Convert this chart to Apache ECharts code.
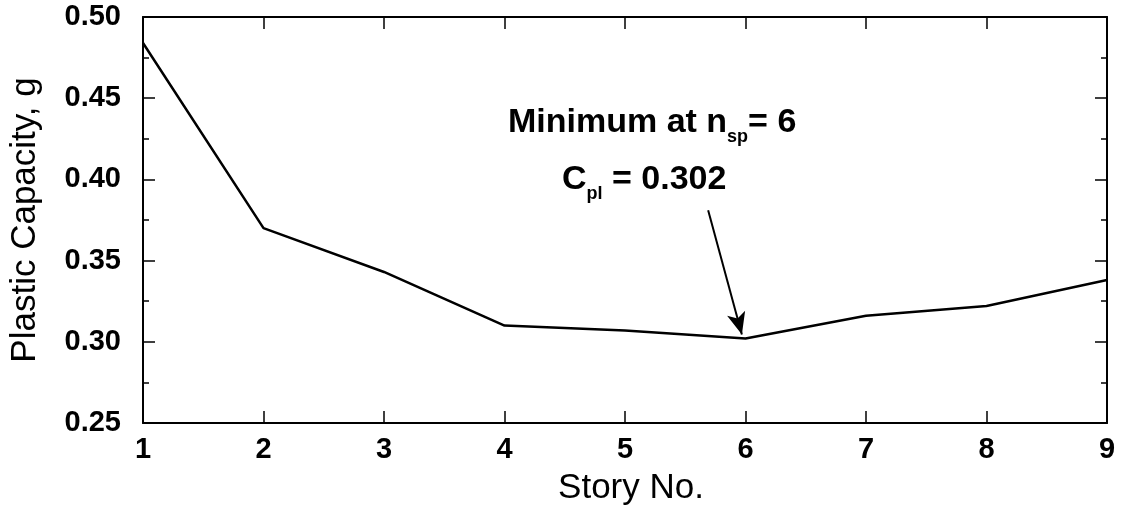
<!DOCTYPE html>
<html>
<head>
<meta charset="utf-8">
<style>
html,body{margin:0;padding:0;background:#fff;}
#chart{width:1123px;height:511px;}
</style>
<script src="https://cdn.jsdelivr.net/npm/echarts@6/dist/echarts.min.js"></script>
</head>
<body>
<div id="chart"></div>
<script>
// Data
const stories = [1, 2, 3, 4, 5, 6, 7, 8, 9];
const plasticCapacity = [0.484, 0.370, 0.343, 0.310, 0.307, 0.302, 0.316, 0.322, 0.338];
const yTicks = [0.25, 0.30, 0.35, 0.40, 0.45, 0.50];
const xTitle = 'Story No.';
const yTitle = 'Plastic Capacity, g';
const arrowFrom = [5.69, 0.381];
const arrowTo = [5.97, 0.3045];

const FONT = '"Liberation Sans", Arial, Helvetica, sans-serif';
const chart = echarts.init(document.getElementById('chart'), null, {renderer: 'canvas'});

const axisLine = {show: true, lineStyle: {color: '#000', width: 2}};
const tickStyle = {color: '#000', width: 1.5};
const subStyle = {fontFamily: FONT, fontSize: 18, fontWeight: 'bold', fill: '#000', verticalAlign: 'bottom', lineHeight: 18};

const option = {
  animation: false,
  backgroundColor: '#fff',
  grid: {left: 142, right: 16, top: 17, bottom: 87},
  xAxis: [{
    type: 'value', min: 1, max: 9, interval: 1, position: 'bottom',
    name: xTitle, nameLocation: 'middle', nameGap: 48,
    nameTextStyle: {fontFamily: FONT, fontSize: 35, color: '#000', padding: [0, 0, 0, 12]},
    axisLine: axisLine,
    axisTick: {show: true, inside: true, length: 12, lineStyle: tickStyle},
    axisLabel: {fontFamily: FONT, fontSize: 29, fontWeight: 'bold', color: '#000', margin: 12},
    splitLine: {show: false}
  }, {
    type: 'value', min: 1, max: 9, interval: 1, position: 'top',
    axisLine: axisLine,
    axisTick: {show: true, inside: true, length: 12, lineStyle: tickStyle},
    axisLabel: {show: false}, splitLine: {show: false}
  }],
  yAxis: [{
    type: 'value', min: yTicks[0], max: yTicks[yTicks.length - 1], interval: 0.05, position: 'left',
    name: yTitle, nameLocation: 'middle', nameGap: 100,
    nameTextStyle: {fontFamily: FONT, fontSize: 35, color: '#000'},
    axisLine: axisLine,
    axisTick: {show: true, inside: true, length: 12, lineStyle: tickStyle},
    minorTick: {show: true, splitNumber: 2, length: 6, lineStyle: tickStyle},
    axisLabel: {fontFamily: FONT, fontSize: 29, fontWeight: 'bold', color: '#000', margin: 22,
      formatter: v => v.toFixed(2)},
    splitLine: {show: false}
  }, {
    type: 'value', min: yTicks[0], max: yTicks[yTicks.length - 1], interval: 0.05, position: 'right',
    axisLine: axisLine,
    axisTick: {show: true, inside: true, length: 12, lineStyle: tickStyle},
    minorTick: {show: true, splitNumber: 2, length: 6, lineStyle: tickStyle},
    axisLabel: {show: false}, splitLine: {show: false}
  }],
  series: [{
    type: 'line',
    data: stories.map((s, i) => [s, plasticCapacity[i]]),
    showSymbol: false,
    symbol: 'none',
    lineStyle: {color: '#000', width: 2.5},
    markLine: {
      silent: true,
      symbol: ['none', 'arrow'],
      symbolSize: [14, 22],
      lineStyle: {color: '#000', width: 2, type: 'solid'},
      label: {show: false},
      data: [[{coord: arrowFrom}, {coord: arrowTo}]]
    }
  }],
  graphic: [{
    type: 'text', left: 508, top: 100,
    style: {
      text: 'Minimum at n{sub|sp}= 6',
      fontFamily: FONT, fontSize: 34, fontWeight: 'bold', fill: '#000', lineHeight: 46,
      rich: {sub: subStyle}
    }
  }, {
    type: 'text', left: 562, top: 157,
    style: {
      text: 'C{sub|pl} = 0.302',
      fontFamily: FONT, fontSize: 34, fontWeight: 'bold', fill: '#000', lineHeight: 46,
      rich: {sub: subStyle}
    }
  }]
};
chart.setOption(option);
</script>
</body>
</html>
